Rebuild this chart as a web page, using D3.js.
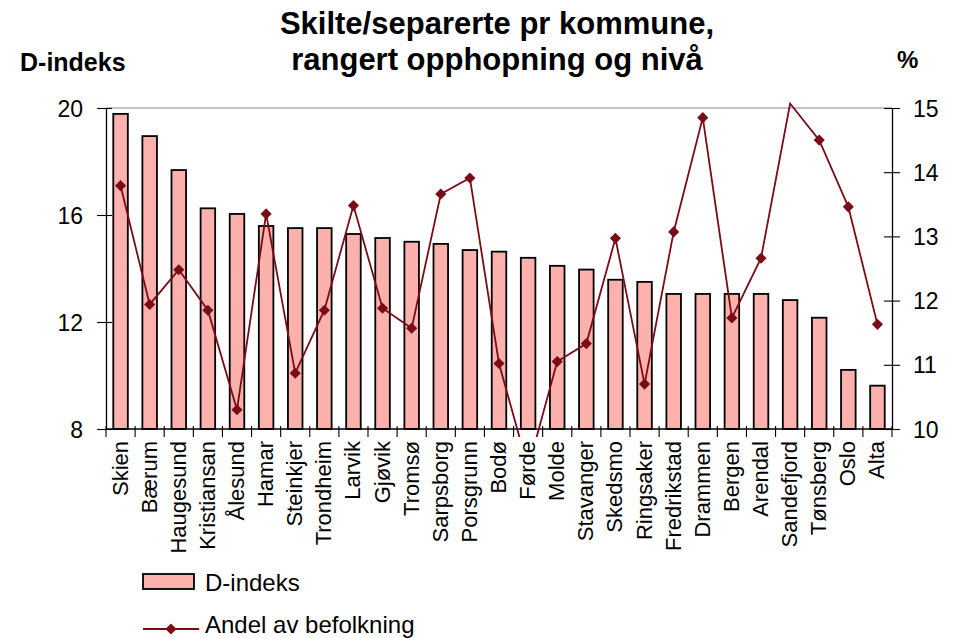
<!DOCTYPE html>
<html>
<head>
<meta charset="utf-8">
<script src="https://cdn.jsdelivr.net/npm/d3@7"></script>
<style>
  body { margin: 0; background: #fff; }
  text { font-family: "Liberation Sans", Arial, sans-serif; }
</style>
</head>
<body>
<div id="chart"></div>
<script>
// data
const kommuner = ["Skien", "Bærum", "Haugesund", "Kristiansan", "Ålesund", "Hamar", "Steinkjer",
  "Trondheim", "Larvik", "Gjøvik", "Tromsø", "Sarpsborg", "Porsgrunn", "Bodø", "Førde", "Molde",
  "Stavanger", "Skedsmo", "Ringsaker", "Fredrikstad", "Drammen", "Bergen", "Arendal",
  "Sandefjord", "Tønsberg", "Oslo", "Alta"];
const dIndeks = [19.78, 18.95, 17.68, 16.25, 16.04, 15.59, 15.51, 15.51, 15.29, 15.14, 15.0,
  14.92, 14.69, 14.63, 14.4, 14.1, 13.96, 13.58, 13.5, 13.05, 13.05, 13.05, 13.05, 12.82,
  12.16, 10.21, 9.62];
const andel = [13.79, 11.94, 12.48, 11.85, 10.3, 13.35, 10.87, 11.85, 13.48, 11.88, 11.57,
  13.66, 13.91, 11.02, 9.39, 11.05, 11.33, 12.97, 10.7, 13.07, 14.85, 11.73, 12.66, 15.07,
  14.5, 13.46, 11.63];
const leftTicks = [8, 12, 16, 20];
const rightTicks = [10, 11, 12, 13, 14, 15];
const titleLines = ["Skilte/separerte pr kommune,", "rangert opphopning og nivå"];

const width = 957, height = 638;
const marginLeft = 106, marginRight = 65, marginTop = 108, marginBottom = 209;
const barColor = "#fcb1ad";
const lineColor = "#7a0c17";

const svg = d3.select("#chart").append("svg")
  .attr("width", width)
  .attr("height", height)
  .attr("viewBox", [0, 0, width, height]);

const x = d3.scaleBand(kommuner, [marginLeft, width - marginRight]);
const yLeft = d3.scaleLinear([8, 20], [height - marginBottom, marginTop]);
const yRight = d3.scaleLinear([10, 15], [height - marginBottom, marginTop]);
const plotBottom = height - marginBottom;

// top border of plot area
svg.append("line")
  .attr("x1", marginLeft).attr("x2", width - marginRight)
  .attr("y1", marginTop).attr("y2", marginTop)
  .attr("stroke", "#8c8c8c")
  .attr("stroke-width", 1.2);

// bars
const barW = x.bandwidth() * 0.5;
svg.append("g")
  .selectAll("rect")
  .data(kommuner)
  .join("rect")
  .attr("x", (d) => x(d) + (x.bandwidth() - barW) / 2)
  .attr("y", (d, i) => yLeft(dIndeks[i]))
  .attr("width", barW)
  .attr("height", (d, i) => plotBottom - yLeft(dIndeks[i]))
  .attr("fill", barColor)
  .attr("stroke", "#000")
  .attr("stroke-width", 1.8);

// left axis
svg.append("g")
  .attr("transform", `translate(${marginLeft},0)`)
  .call(d3.axisLeft(yLeft).tickValues(leftTicks).tickFormat(d3.format("d")).tickSize(0).tickPadding(23))
  .call((g) => g.select(".domain").attr("stroke", "#000").attr("stroke-width", 1.3))
  .call((g) => g.selectAll(".tick line").remove())
  .call((g) => g.selectAll(".tick").append("line")
    .attr("x1", -9).attr("x2", 6).attr("stroke", "#000").attr("stroke-width", 1.1))
  .call((g) => g.selectAll(".tick text")
    .attr("font-size", 23).attr("fill", "#000").attr("dy", "0.35em"));

// right axis
svg.append("g")
  .attr("transform", `translate(${width - marginRight},0)`)
  .call(d3.axisRight(yRight).tickValues(rightTicks).tickFormat(d3.format("d")).tickSize(0).tickPadding(21))
  .call((g) => g.select(".domain").attr("stroke", "#000").attr("stroke-width", 1.3))
  .call((g) => g.selectAll(".tick line").remove())
  .call((g) => g.selectAll(".tick").append("line")
    .attr("x1", -8).attr("x2", 8).attr("stroke", "#000").attr("stroke-width", 1.1))
  .call((g) => g.selectAll(".tick text")
    .attr("font-size", 23).attr("fill", "#000").attr("dy", "0.35em"));

// bottom axis, ticks between categories
const bottom = svg.append("g");
bottom.append("line")
  .attr("x1", marginLeft).attr("x2", width - marginRight)
  .attr("y1", plotBottom).attr("y2", plotBottom)
  .attr("stroke", "#000").attr("stroke-width", 1.3);
bottom.selectAll("line.tk")
  .data(d3.range(kommuner.length + 1))
  .join("line")
  .attr("class", "tk")
  .attr("x1", (i) => marginLeft + i * x.step())
  .attr("x2", (i) => marginLeft + i * x.step())
  .attr("y1", plotBottom - 3)
  .attr("y2", plotBottom + 8)
  .attr("stroke", "#000").attr("stroke-width", 1.1);
bottom.selectAll("text")
  .data(kommuner)
  .join("text")
  .attr("transform", (d) => `translate(${x(d) + x.bandwidth() / 2 + 7},${plotBottom + 12}) rotate(-90)`)
  .attr("text-anchor", "end")
  .attr("font-size", 22)
  .attr("fill", "#000")
  .text((d) => d);

// line series, clipped a little outside the plot area
svg.append("clipPath")
  .attr("id", "clip")
  .append("rect")
  .attr("x", marginLeft).attr("y", marginTop - 8)
  .attr("width", width - marginLeft - marginRight)
  .attr("height", plotBottom - marginTop + 16);

const line = d3.line()
  .x((d, i) => x(kommuner[i]) + x.bandwidth() / 2)
  .y((d) => yRight(d));

svg.append("path")
  .attr("clip-path", "url(#clip)")
  .attr("d", line(andel))
  .attr("fill", "none")
  .attr("stroke", lineColor)
  .attr("stroke-width", 1.8);

const diamond = d3.symbol(d3.symbolSquare, 62)();
svg.append("g")
  .selectAll("path")
  .data(andel.map((v, i) => [kommuner[i], v]).filter((d) => d[1] >= 10 && d[1] <= 15))
  .join("path")
  .attr("d", diamond)
  .attr("transform", (d) => `translate(${x(d[0]) + x.bandwidth() / 2},${yRight(d[1])}) rotate(45)`)
  .attr("fill", lineColor);

// title
svg.append("g")
  .selectAll("text")
  .data(titleLines)
  .join("text")
  .attr("x", 497)
  .attr("y", (d, i) => 34 + i * 36)
  .attr("text-anchor", "middle")
  .attr("font-size", 31)
  .attr("font-weight", "bold")
  .attr("fill", "#000")
  .text((d) => d);

// axis titles
svg.append("text")
  .attr("x", 20).attr("y", 71)
  .attr("font-size", 25).attr("font-weight", "bold")
  .text("D-indeks");
svg.append("text")
  .attr("x", 897).attr("y", 68)
  .attr("font-size", 24).attr("font-weight", "bold")
  .text("%");

// legend
const legend = svg.append("g");
legend.append("rect")
  .attr("x", 143).attr("y", 574)
  .attr("width", 51).attr("height", 15)
  .attr("fill", barColor).attr("stroke", "#000").attr("stroke-width", 1.8);
legend.append("text")
  .attr("x", 205).attr("y", 591)
  .attr("font-size", 24)
  .text("D-indeks");
legend.append("line")
  .attr("x1", 143).attr("x2", 199)
  .attr("y1", 629).attr("y2", 629)
  .attr("stroke", lineColor).attr("stroke-width", 1.8);
legend.append("path")
  .attr("d", diamond)
  .attr("transform", "translate(171,629) rotate(45)")
  .attr("fill", lineColor);
legend.append("text")
  .attr("x", 205).attr("y", 633)
  .attr("font-size", 24)
  .text("Andel av befolkning");
</script>
</body>
</html>
